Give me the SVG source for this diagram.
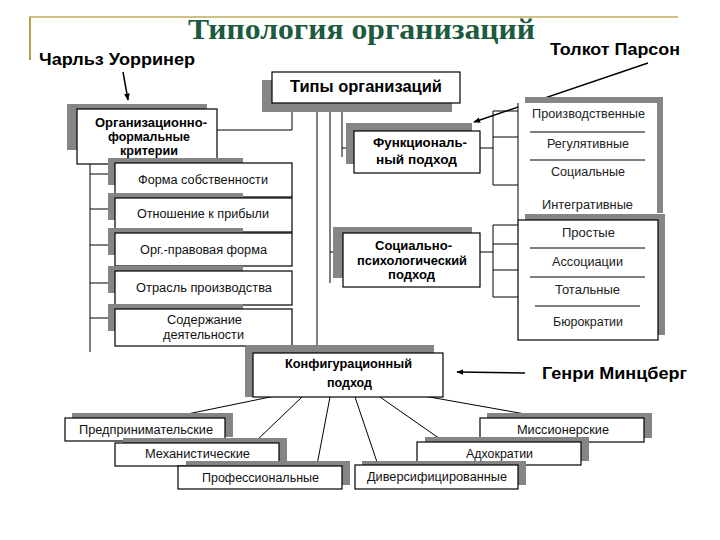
<svg xmlns="http://www.w3.org/2000/svg" width="720" height="540" viewBox="0 0 720 540">
<defs>
<marker id="ah" viewBox="0 0 10 10" refX="9" refY="5" markerWidth="7" markerHeight="7" markerUnits="userSpaceOnUse" orient="auto"><path d="M0,1 L10,5 L0,9 Z" fill="#000"/></marker>
</defs>
<style>
.sh{fill:#858585}
.bx{fill:#fff;stroke:#000;stroke-width:1.2}
.ln{stroke:#000;stroke-width:1;fill:none}
.ar{stroke:#000;stroke-width:1.5;fill:none;marker-end:url(#ah)}
.t{font-family:"Liberation Sans",Arial,sans-serif;font-size:12px;fill:#111;text-anchor:start}
.b{font-family:"Liberation Sans",Arial,sans-serif;font-size:12px;font-weight:bold;fill:#000}
.h{font-family:"Liberation Sans",Arial,sans-serif;font-size:16px;font-weight:bold;fill:#000}
.r{font-family:"Liberation Sans",Arial,sans-serif;font-size:12px;fill:#222}
.sep{stroke:#000;stroke-width:1}
</style>
<rect width="720" height="540" fill="#fff"/>
<g id="frame">
<line x1="29" y1="17" x2="678" y2="17" stroke="#bfae5a" stroke-width="1.5"/>
<line x1="30" y1="17" x2="30" y2="60" stroke="#b5a049" stroke-width="2"/>
</g>
<text id="title" x="188" y="39" textLength="347" lengthAdjust="spacingAndGlyphs" style="font-family:'Liberation Serif','Times New Roman',serif;font-size:29px;font-weight:bold;fill:#1d5a40">Типология организаций</text>
<g id="authors">
<text class="h" x="39" y="65" textLength="156" lengthAdjust="spacingAndGlyphs">Чарльз Уорринер</text>
<text class="h" x="550" y="55" textLength="130" lengthAdjust="spacingAndGlyphs">Толкот Парсон</text>
<text class="h" x="542" y="379" textLength="145" lengthAdjust="spacingAndGlyphs">Генри Минцберг</text>
</g>
<g id="connectors">
<path class="ln" d="M292,103 V130 H217"/>
<path class="ln" d="M317,103 V345"/>
<path class="ln" d="M330,103 V283 M330,252 H343"/>
<path class="ln" d="M342,103 V157 M342,148 H354"/>
<path class="ln" d="M90,164 V352 M90,174 H115 M90,209 H115 M90,245 H115 M90,283 H115 M90,318 H115"/>
<path class="ln" d="M480,148 H493 M493,111 V185 M493,111 H518 M493,137 H518 M493,185 H518"/>
<path class="ln" d="M480,252 H493 M493,225 V297 M493,225 H518 M493,244 H518 M493,270 H518 M493,297 H518"/>
<path class="ln" d="M280,395 L168,418 M302,397 L255,442 M330,397 L317,465 M355,397 L378,465 M380,397 L443,441 M418,395 L542,417"/>
<line class="ar" x1="123" y1="72" x2="128" y2="100"/>
<line class="ar" x1="648" y1="63" x2="474" y2="122"/>
<line class="ar" x1="525" y1="373" x2="457" y2="372"/>
</g>
<g id="n-types">
<rect class="sh" x="262" y="80" width="190" height="32"/>
<rect class="bx" x="272" y="72" width="188" height="31" stroke-width="2"/>
<text x="290" y="92" textLength="152" lengthAdjust="spacingAndGlyphs" style="font-family:'Liberation Sans',Arial,sans-serif;font-size:17px;fill:#000;font-weight:bold">Типы организаций</text>
</g>
<g id="n-orgformal">
<rect class="sh" x="67" y="104" width="140" height="46"/>
<rect class="bx" x="77" y="109" width="140" height="55"/>
<text class="b" x="95" y="127" textLength="112" lengthAdjust="spacingAndGlyphs">Организационно-</text>
<text class="b" x="108" y="141" textLength="82" lengthAdjust="spacingAndGlyphs">формальные</text>
<text class="b" x="120" y="155" textLength="58" lengthAdjust="spacingAndGlyphs">критерии</text>
</g>
<g id="n-forma">
<rect class="sh" x="108" y="158" width="135" height="27"/>
<rect class="bx" x="115" y="163" width="177" height="34"/>
<text class="t" x="138" y="184" textLength="130" lengthAdjust="spacingAndGlyphs">Форма собственности</text>
</g>
<g id="n-otnosh">
<rect class="sh" x="108" y="193" width="135" height="27"/>
<rect class="bx" x="115" y="198" width="177" height="34"/>
<text class="t" x="137" y="218" textLength="132" lengthAdjust="spacingAndGlyphs">Отношение к прибыли</text>
</g>
<g id="n-orgprav">
<rect class="sh" x="108" y="228" width="135" height="27"/>
<rect class="bx" x="115" y="233" width="177" height="33"/>
<text class="t" x="140" y="254" textLength="127" lengthAdjust="spacingAndGlyphs">Орг.-правовая форма</text>
</g>
<g id="n-otrasl">
<rect class="sh" x="108" y="266" width="135" height="27"/>
<rect class="bx" x="115" y="271" width="177" height="34"/>
<text class="t" x="136" y="292" textLength="136" lengthAdjust="spacingAndGlyphs">Отрасль  производства</text>
</g>
<g id="n-soderzh">
<rect class="sh" x="108" y="304" width="135" height="27"/>
<rect class="bx" x="115" y="309" width="177" height="37"/>
<text class="t" x="167" y="324" textLength="75" lengthAdjust="spacingAndGlyphs">Содержание</text>
<text class="t" x="163" y="339" textLength="81" lengthAdjust="spacingAndGlyphs">деятельности</text>
</g>
<g id="n-func">
<rect class="sh" x="346" y="123" width="126" height="41"/>
<rect class="bx" x="354" y="131" width="126" height="42"/>
<text class="b" x="373" y="147" textLength="94" lengthAdjust="spacingAndGlyphs">Функциональ-</text>
<text class="b" x="376" y="164" textLength="81" lengthAdjust="spacingAndGlyphs">ный подход</text>
</g>
<g id="n-socpsy">
<rect class="sh" x="333" y="227" width="139" height="51"/>
<rect class="bx" x="343" y="233" width="137" height="54"/>
<text class="b" x="375" y="250" textLength="77" lengthAdjust="spacingAndGlyphs">Социально-</text>
<text class="b" x="357" y="265" textLength="110" lengthAdjust="spacingAndGlyphs">психологический</text>
<text class="b" x="388" y="279" textLength="47" lengthAdjust="spacingAndGlyphs">подход</text>
</g>
<g id="n-parsons">
<rect class="sh" x="525" y="97" width="138" height="116"/>
<rect x="518" y="103" width="139" height="110" fill="#fff"/>
<line class="sep" x1="518" y1="103" x2="518" y2="220"/>
<line class="sep" x1="530" y1="132" x2="645" y2="132"/>
<line class="sep" x1="530" y1="160" x2="645" y2="160"/>
<text class="r" x="532" y="118" textLength="113" lengthAdjust="spacingAndGlyphs">Производственные</text>
<text class="r" x="547" y="148" textLength="82" lengthAdjust="spacingAndGlyphs">Регулятивные</text>
<text class="r" x="551" y="176" textLength="74" lengthAdjust="spacingAndGlyphs">Социальные</text>
<text class="r" x="542" y="209" textLength="91" lengthAdjust="spacingAndGlyphs">Интегративные</text>
</g>
<g id="n-socpsy-types">
<rect class="sh" x="525" y="214" width="140" height="121"/>
<rect class="bx" x="518" y="220" width="140" height="120"/>
<line class="sep" x1="530" y1="248" x2="645" y2="248"/>
<line class="sep" x1="530" y1="277" x2="645" y2="277"/>
<line class="sep" x1="535" y1="306" x2="640" y2="306"/>
<text class="r" x="562" y="237" textLength="53" lengthAdjust="spacingAndGlyphs">Простые</text>
<text class="r" x="552" y="266" textLength="71" lengthAdjust="spacingAndGlyphs">Ассоциации</text>
<text class="r" x="555" y="294" textLength="65" lengthAdjust="spacingAndGlyphs">Тотальные</text>
<text class="r" x="553" y="326" textLength="70" lengthAdjust="spacingAndGlyphs">Бюрократии</text>
</g>
<g id="n-config">
<rect class="sh" x="245" y="345" width="189" height="52"/>
<rect class="bx" x="253" y="353" width="190" height="44"/>
<text class="b" x="285" y="368" textLength="127" lengthAdjust="spacingAndGlyphs">Конфигурационный</text>
<text class="b" x="327" y="387" textLength="45" lengthAdjust="spacingAndGlyphs">подход</text>
</g>
<g id="n-predpr">
<rect class="sh" x="72" y="413" width="161" height="24"/>
<rect class="bx" x="65" y="418" width="160" height="23"/>
<text class="t" x="79" y="434" textLength="134" lengthAdjust="spacingAndGlyphs">Предпринимательские</text>
</g>
<g id="n-mekh">
<rect class="sh" x="123" y="438" width="164" height="24"/>
<rect class="bx" x="115" y="443" width="164" height="23"/>
<text class="t" x="145" y="458" textLength="105" lengthAdjust="spacingAndGlyphs">Механистические</text>
</g>
<g id="n-prof">
<rect class="sh" x="186" y="461" width="164" height="24"/>
<rect class="bx" x="178" y="466" width="164" height="23"/>
<text class="t" x="202" y="482" textLength="117" lengthAdjust="spacingAndGlyphs">Профессиональные</text>
</g>
<g id="n-mission">
<rect class="sh" x="487" y="413" width="165" height="25"/>
<rect class="bx" x="480" y="418" width="164" height="24"/>
<text class="t" x="517" y="434" textLength="92" lengthAdjust="spacingAndGlyphs">Миссионерские</text>
</g>
<g id="n-adhoc">
<rect class="sh" x="425" y="437" width="164" height="24"/>
<rect class="bx" x="417" y="442" width="164" height="23"/>
<text class="t" x="466" y="458" textLength="67" lengthAdjust="spacingAndGlyphs">Адхократии</text>
</g>
<g id="n-divers">
<rect class="sh" x="362" y="461" width="164" height="24"/>
<rect class="bx" x="355" y="465" width="163" height="24"/>
<text class="t" x="367" y="481" textLength="140" lengthAdjust="spacingAndGlyphs">Диверсифицированные</text>
</g>
</svg>
